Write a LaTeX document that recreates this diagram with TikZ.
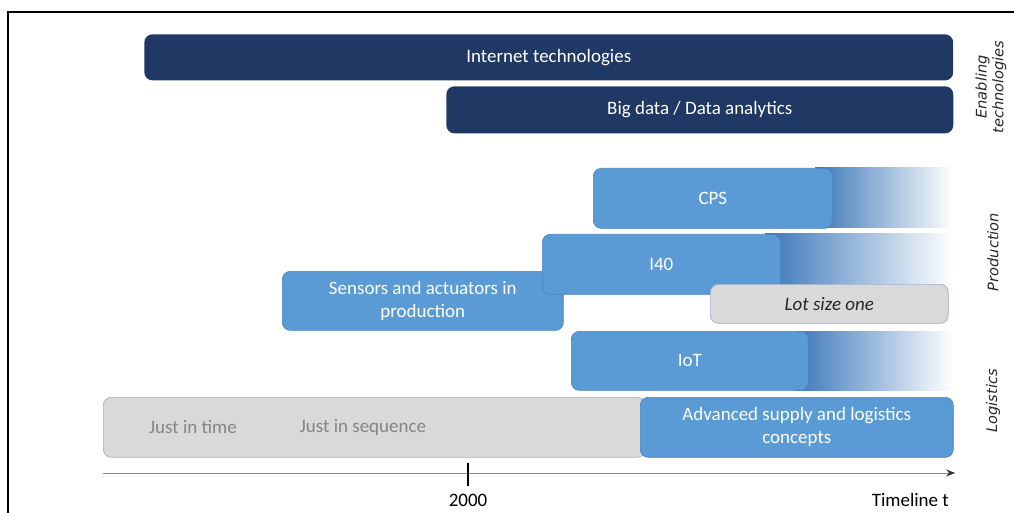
\documentclass[tikz,border=0pt]{standalone}
\usepackage{fontspec}
\setmainfont{Carlito}
\newfontfamily\sidefont{DejaVu Sans}
\usetikzlibrary{positioning,arrows.meta}
\definecolor{navy}{HTML}{203864}
\definecolor{midblue}{HTML}{5B9BD5}
\definecolor{edgeblue}{HTML}{4A84C0}
\definecolor{fadeblue}{HTML}{3C77BA}
\definecolor{lightgrey}{HTML}{D9D9D9}
\definecolor{greyedge}{HTML}{9DB3CF}
\definecolor{greytext}{HTML}{858585}

\begin{document}
\begin{tikzpicture}
[x=0.02cm,y=-0.02cm,
  bar/.style={rounded corners=0.16cm,anchor=north west,inner sep=0pt,align=center,
    font=\fontsize{10.8}{13}\selectfont},
  enabler/.style={bar,fill=navy,text=white},
  tech/.style={bar,fill=midblue,draw=edgeblue,thin,text=white},
  grey/.style={bar,fill=lightgrey,draw=greyedge,thin},
  fade/.style={left color=fadeblue,right color=white,draw=none},
  side/.style={rotate=90,align=center,font=\sidefont\itshape\fontsize{8.3}{9.6}\selectfont,text=black!85}]
\useasboundingbox (0,0) rectangle (1014,513);
% frame
\draw[line width=1.1pt] (8,513) -- (8,12) -- (1014,12);

% enabling technologies
\node[enabler,minimum width=16.18cm,minimum height=0.92cm] (inet) at (144,34) {Internet technologies};
\node[enabler,minimum width=10.14cm,minimum height=0.94cm] (bigdata) at (446,86) {Big data / Data analytics};

% fading tails behind the open ended bars
\fill[fade] (815,168) rectangle (953,228);
\fill[fade] (765,234) rectangle (953,294);
\fill[fade] (795,331) rectangle (953,390);

% production
\node[tech,minimum width=4.78cm,minimum height=1.2cm] (cps) at (593,168) {CPS};
\node[tech,minimum width=5.62cm,minimum height=1.18cm] (sensors) at (282,271) {Sensors and actuators in\\production};
\node[tech,minimum width=4.76cm,minimum height=1.2cm] (i40) at (542,234) {I40};
\node[grey,minimum width=4.76cm,minimum height=0.78cm,text=black!85,font=\fontsize{10.8}{13}\selectfont\itshape] (lot) at (710,284) {Lot size one};
\node[tech,minimum width=4.74cm,minimum height=1.18cm] (iot) at (571,331) {IoT};

% logistics
\node[grey,minimum width=10.84cm,minimum height=1.2cm] (jit) at (103,397) {};
\node[text=greytext,font=\fontsize{10.8}{13}\selectfont] (time) at (193,427) {Just in time};
\node[text=greytext,font=\fontsize{10.8}{13}\selectfont] (sequence) at (363,427) {Just in sequence};
\node[tech,minimum width=6.26cm,minimum height=1.2cm] (adv) at (640,397) {Advanced supply and logistics\\concepts};

% time axis
\coordinate (t0) at (103,473);
\coordinate (t1) at (955,473);
\draw[black!45,thin,-{Stealth[length=5pt,width=4pt,black!80]}] (t0) -- (t1);
\coordinate (ticktop) at (468,463);
\coordinate (tickbot) at (468,486);
\draw[thick] (ticktop) -- (tickbot);
\node[font=\fontsize{10.8}{13}\selectfont] (y2000) at (468,500) {2000};
\node[anchor=east,font=\fontsize{10.8}{13}\selectfont] (tl) at (955,500) {Timeline t};

% layer labels
\node[side] (lab1) at (991,87) {Enabling\\technologies};
\node[side] (lab2) at (993,252) {Production};
\node[side] (lab3) at (993,401) {Logistics};
\end{tikzpicture}
\end{document}
